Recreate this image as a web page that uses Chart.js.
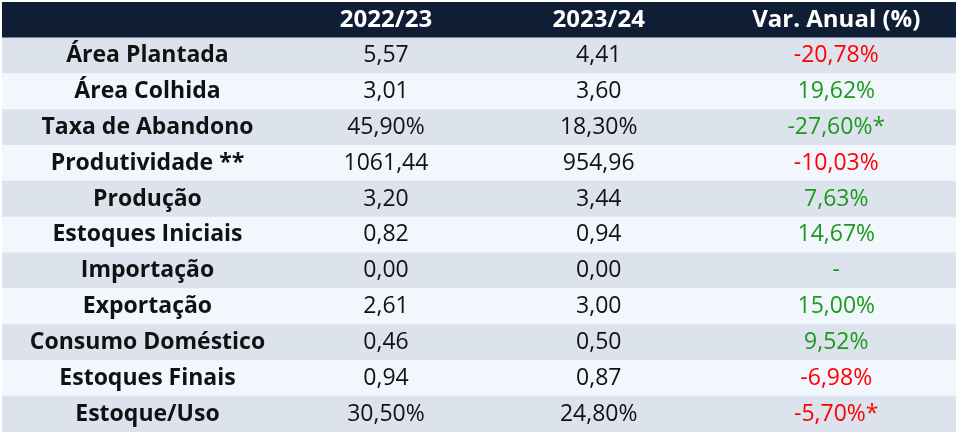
<!DOCTYPE html>
<html>
<head>
<meta charset="utf-8">
<script src="https://cdn.jsdelivr.net/npm/chart.js@4.4.1/dist/chart.umd.min.js"></script>
<style>
  html, body { margin: 0; padding: 0; background: #ffffff; }
  #wrap { width: 956px; height: 432px; }
</style>
</head>
<body>
<div id="wrap"><canvas id="table"></canvas></div>
<script>
// column headers
const headers = ["", "2022/23", "2023/24", "Var. Anual (%)"];

// row labels
const rowLabels = [
  "Área Plantada",
  "Área Colhida",
  "Taxa de Abandono",
  "Produtividade **",
  "Produção",
  "Estoques Iniciais",
  "Importação",
  "Exportação",
  "Consumo Doméstico",
  "Estoques Finais",
  "Estoque/Uso"
];

// values per season
const values2223 = [5.57, 3.01, 45.90, 1061.44, 3.20, 0.82, 0.00, 2.61, 0.46, 0.94, 30.50];
const values2324 = [4.41, 3.60, 18.30, 954.96, 3.44, 0.94, 0.00, 3.00, 0.50, 0.87, 24.80];
const valueUnits = ["", "", "%", "", "", "", "", "", "", "", "%"];

// annual variation (%), null = no variation; * marks percentage-point change
const annualVar = [-20.78, 19.62, -27.60, -10.03, 7.63, 14.67, null, 15.00, 9.52, -6.98, -5.70];
const varNote = ["", "", "*", "", "", "", "", "", "", "", "*"];
const varFavorable = [false, true, true, false, true, true, true, true, true, false, false];

const fmt = (v) => v.toFixed(2).replace(".", ",");

// one bar per row (header first), drawn across the full width
const allRows = ["header"].concat(rowLabels);
const rowBars = allRows.map(() => [0, 1]);
const rowColors = allRows.map((r, i) => i === 0 ? "#101e35" : (i % 2 === 1 ? "#dde3ed" : "#f2f6fd"));

const FONT = "'Open Sans'";

const tableText = {
  id: "tableText",
  afterDatasetsDraw(chart) {
    const { ctx, scales: { x, y } } = chart;
    const colX = [0.1525, 0.4025, 0.6255, 0.8745].map(v => x.getPixelForValue(v));
    ctx.save();
    ctx.textAlign = "center";
    ctx.textBaseline = "middle";

    // header
    const hy = y.getPixelForValue(0);
    ctx.fillStyle = "#ffffff";
    ctx.font = "bold 24px " + FONT;
    headers.forEach((h, c) => { if (h) ctx.fillText(h, colX[c], hy); });

    rowLabels.forEach((label, i) => {
      const py = y.getPixelForValue(i + 1);
      ctx.fillStyle = "#111111";
      ctx.font = "bold 23px " + FONT;
      ctx.fillText(label, colX[0], py);

      ctx.font = "23px " + FONT;
      ctx.fillText(fmt(values2223[i]) + valueUnits[i], colX[1], py);
      ctx.fillText(fmt(values2324[i]) + valueUnits[i], colX[2], py);

      ctx.fillStyle = varFavorable[i] ? "#1b9a1b" : "#ff0000";
      const v = annualVar[i];
      ctx.fillText(v === null ? "-" : fmt(v) + "%" + varNote[i], colX[3], py);
    });
    ctx.restore();
  }
};

new Chart(document.getElementById("table"), {
  type: "bar",
  data: {
    labels: allRows,
    datasets: [{
      data: rowBars,
      backgroundColor: rowColors,
      borderWidth: 0,
      barPercentage: 1,
      categoryPercentage: 1
    }]
  },
  options: {
    indexAxis: "y",
    responsive: true,
    maintainAspectRatio: false,
    animation: false,
    events: [],
    layout: { padding: { left: 2, top: 2, right: 0, bottom: 0 } },
    plugins: { legend: { display: false }, tooltip: { enabled: false } },
    scales: {
      x: { type: "linear", min: 0, max: 1, display: false },
      y: { type: "category", display: false, offset: true }
    }
  },
  plugins: [tableText]
});
</script>
</body>
</html>
